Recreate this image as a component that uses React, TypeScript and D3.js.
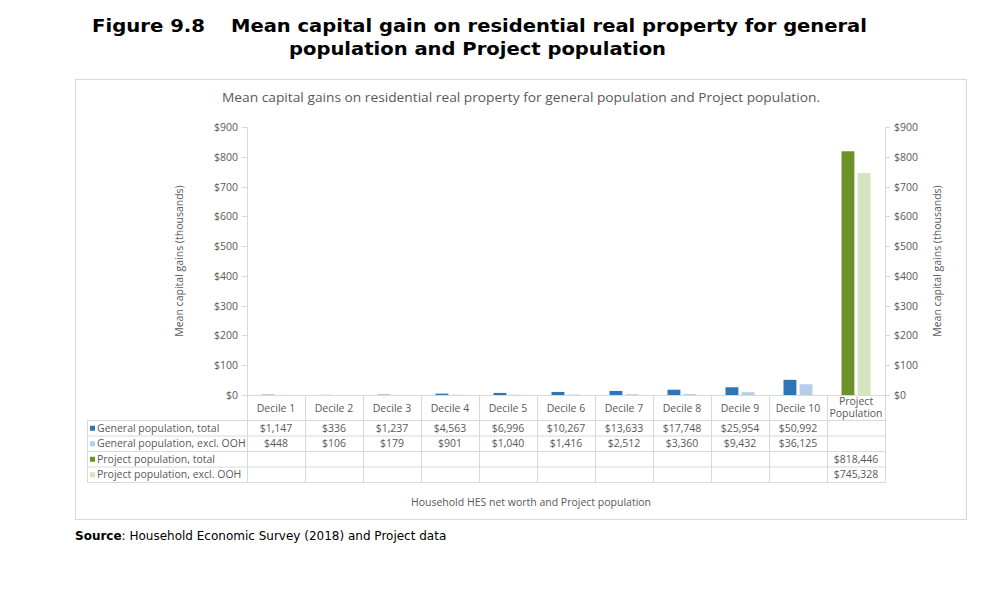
import React, { useEffect, useRef } from 'react';
import * as d3 from 'd3';

const categories = ['Decile 1', 'Decile 2', 'Decile 3', 'Decile 4', 'Decile 5', 'Decile 6', 'Decile 7', 'Decile 8', 'Decile 9', 'Decile 10', 'Project Population'];
const generalTotal: (number | null)[] = [1147, 336, 1237, 4563, 6996, 10267, 13633, 17748, 25954, 50992, null];
const generalExcl: (number | null)[] = [448, 106, 179, 901, 1040, 1416, 2512, 3360, 9432, 36125, null];
const projectTotal: (number | null)[] = [null, null, null, null, null, null, null, null, null, null, 818446];
const projectExcl: (number | null)[] = [null, null, null, null, null, null, null, null, null, null, 745328];
const yTicks = [0, 100, 200, 300, 400, 500, 600, 700, 800, 900];

const seriesNames = ['General population, total', 'General population, excl. OOH', 'Project population, total', 'Project population, excl. OOH'];
const seriesColors = ['#2e75b6', '#b4cde9', '#6b9228', '#d5e5bf'];
const seriesData = [generalTotal, generalExcl, projectTotal, projectExcl];
// which slot in the column pair each series uses
const seriesSlot = ['a', 'b', 'a', 'b'];

const W = 1000;
const H = 602;
const chartFont = "'Open Sans', 'DejaVu Sans', sans-serif";
const gray = '#595959';
const grid = '#d9d9d9';

const App: React.FC = () => {
  const ref = useRef<SVGSVGElement | null>(null);

  useEffect(() => {
    if (!ref.current) return;
    const svg = d3.select(ref.current);
    svg.selectAll('*').remove();

    const plotLeft = 247;
    const plotRight = 885;
    const plotTop = 127;
    const plotBottom = 395;
    const rowLines = [420.5, 436, 451.5, 467, 482.5];
    const legendLeft = 87;

    const x = d3.scaleBand<string>().domain(categories).range([plotLeft, plotRight]).padding(0);
    const inner = d3.scaleBand<string>().domain(['a', 'b']).range([0, x.bandwidth()]).paddingInner(0.2).paddingOuter(0.9);
    const y = d3.scaleLinear().domain([0, 900]).range([plotBottom, plotTop]);

    // figure heading (Verdana-like, stretched to the original widths)
    const head = svg.append('g').attr('font-family', "'DejaVu Sans', Verdana, sans-serif").attr('font-weight', 'bold').attr('font-size', 18.5).attr('fill', '#000');
    head.append('text').attr('x', 92).attr('y', 32).attr('textLength', 113).attr('lengthAdjust', 'spacingAndGlyphs').text('Figure 9.8');
    head.append('text').attr('x', 231).attr('y', 32).attr('textLength', 636).attr('lengthAdjust', 'spacingAndGlyphs').text('Mean capital gain on residential real property for general');
    head.append('text').attr('x', 289).attr('y', 55).attr('textLength', 377).attr('lengthAdjust', 'spacingAndGlyphs').text('population and Project population');

    // chart frame
    svg.append('rect').attr('x', 75.5).attr('y', 79.5).attr('width', 891).attr('height', 440).attr('fill', '#fff').attr('stroke', grid);

    svg.append('text')
      .attr('x', 222).attr('y', 102)
      .attr('textLength', 598).attr('lengthAdjust', 'spacingAndGlyphs')
      .attr('font-family', chartFont).attr('font-size', 13.5).attr('fill', gray)
      .text('Mean capital gains on residential real property for general population and Project population.');

    // axes
    const axisG = svg.append('g').attr('font-family', chartFont).attr('font-size', 10.5).attr('fill', gray);
    axisG.append('line').attr('x1', plotLeft + 0.5).attr('x2', plotLeft + 0.5).attr('y1', plotTop).attr('y2', plotBottom).attr('stroke', grid);
    axisG.append('line').attr('x1', plotRight + 0.5).attr('x2', plotRight + 0.5).attr('y1', plotTop).attr('y2', plotBottom).attr('stroke', grid);
    yTicks.forEach((t) => {
      const ty = Math.round(y(t)) + 0.5;
      axisG.append('line').attr('x1', plotLeft - 5).attr('x2', plotLeft).attr('y1', ty).attr('y2', ty).attr('stroke', grid);
      axisG.append('line').attr('x1', plotRight).attr('x2', plotRight + 5).attr('y1', ty).attr('y2', ty).attr('stroke', grid);
      axisG.append('text').attr('x', plotLeft - 9).attr('y', ty).attr('dy', '0.35em').attr('text-anchor', 'end').text(`$${t}`);
      axisG.append('text').attr('x', plotRight + 9).attr('y', ty).attr('dy', '0.35em').attr('text-anchor', 'start').text(`$${t}`);
    });
    axisG.append('text')
      .attr('transform', `translate(183, ${(plotTop + plotBottom) / 2}) rotate(-90)`)
      .attr('text-anchor', 'middle').attr('font-size', 10.5)
      .text('Mean capital gains (thousands)');
    axisG.append('text')
      .attr('transform', `translate(941, ${(plotTop + plotBottom) / 2}) rotate(-90)`)
      .attr('text-anchor', 'middle').attr('font-size', 10.5)
      .text('Mean capital gains (thousands)');

    // bars
    seriesData.forEach((vals, si) => {
      svg.append('g')
        .selectAll('rect')
        .data(vals.map((v, i) => ({ v, c: categories[i] })).filter((d) => d.v != null))
        .enter()
        .append('rect')
        .attr('x', (d) => (x(d.c) as number) + (inner(seriesSlot[si]) as number))
        .attr('width', inner.bandwidth())
        .attr('y', (d) => y((d.v as number) / 1000))
        .attr('height', (d) => plotBottom - y((d.v as number) / 1000))
        .attr('fill', seriesColors[si]);
    });

    // data table
    const tbl = svg.append('g').attr('stroke', grid).attr('fill', 'none');
    tbl.append('line').attr('x1', plotLeft).attr('x2', plotRight + 1).attr('y1', plotBottom + 0.5).attr('y2', plotBottom + 0.5);
    rowLines.forEach((ry) => {
      tbl.append('line').attr('x1', legendLeft).attr('x2', plotRight + 1).attr('y1', ry).attr('y2', ry);
    });
    tbl.append('line').attr('x1', legendLeft + 0.5).attr('x2', legendLeft + 0.5).attr('y1', rowLines[0]).attr('y2', rowLines[4]);
    categories.forEach((c, i) => {
      const lx = (x(c) as number) + 0.5;
      tbl.append('line').attr('x1', lx).attr('x2', lx).attr('y1', plotBottom).attr('y2', rowLines[4]);
      if (i === categories.length - 1) {
        const rx = lx + x.bandwidth();
        tbl.append('line').attr('x1', rx).attr('x2', rx).attr('y1', plotBottom).attr('y2', rowLines[4]);
      }
    });

    const txt = svg.append('g').attr('font-family', chartFont).attr('font-size', 10.5).attr('fill', gray);
    categories.forEach((c) => {
      const cx = (x(c) as number) + x.bandwidth() / 2;
      if (c === 'Project Population') {
        txt.append('text').attr('x', cx).attr('y', 405).attr('text-anchor', 'middle').text('Project');
        txt.append('text').attr('x', cx).attr('y', 417).attr('text-anchor', 'middle').text('Population');
      } else {
        txt.append('text').attr('x', cx).attr('y', 411.5).attr('text-anchor', 'middle').text(c);
      }
    });
    seriesData.forEach((vals, si) => {
      const rowMid = (rowLines[si] + rowLines[si + 1]) / 2;
      txt.append('rect').attr('x', legendLeft + 3).attr('y', rowMid - 2.5).attr('width', 5).attr('height', 5).attr('fill', seriesColors[si]);
      txt.append('text').attr('x', legendLeft + 10).attr('y', rowMid).attr('dy', '0.35em').text(seriesNames[si]);
      vals.forEach((v, i) => {
        if (v == null) return;
        const cx = (x(categories[i]) as number) + x.bandwidth() / 2;
        txt.append('text').attr('x', cx).attr('y', rowMid).attr('dy', '0.35em').attr('text-anchor', 'middle').text(`$${d3.format(',')(v)}`);
      });
    });

    txt.append('text').attr('x', 531).attr('y', 506).attr('text-anchor', 'middle').text('Household HES net worth and Project population');

    // source line
    const src = svg.append('text').attr('x', 75).attr('y', 540).attr('font-family', "'DejaVu Sans', Verdana, sans-serif").attr('font-size', 12).attr('fill', '#000');
    src.append('tspan').attr('font-weight', 'bold').text('Source');
    src.append('tspan').text(': Household Economic Survey (2018) and Project data');
  }, []);

  return (
    <div style={{ position: 'absolute', left: 0, top: 0, width: W, height: H, background: '#fff' }}>
      <svg ref={ref} width={W} height={H} style={{ display: 'block' }} />
    </div>
  );
};

export default App;
